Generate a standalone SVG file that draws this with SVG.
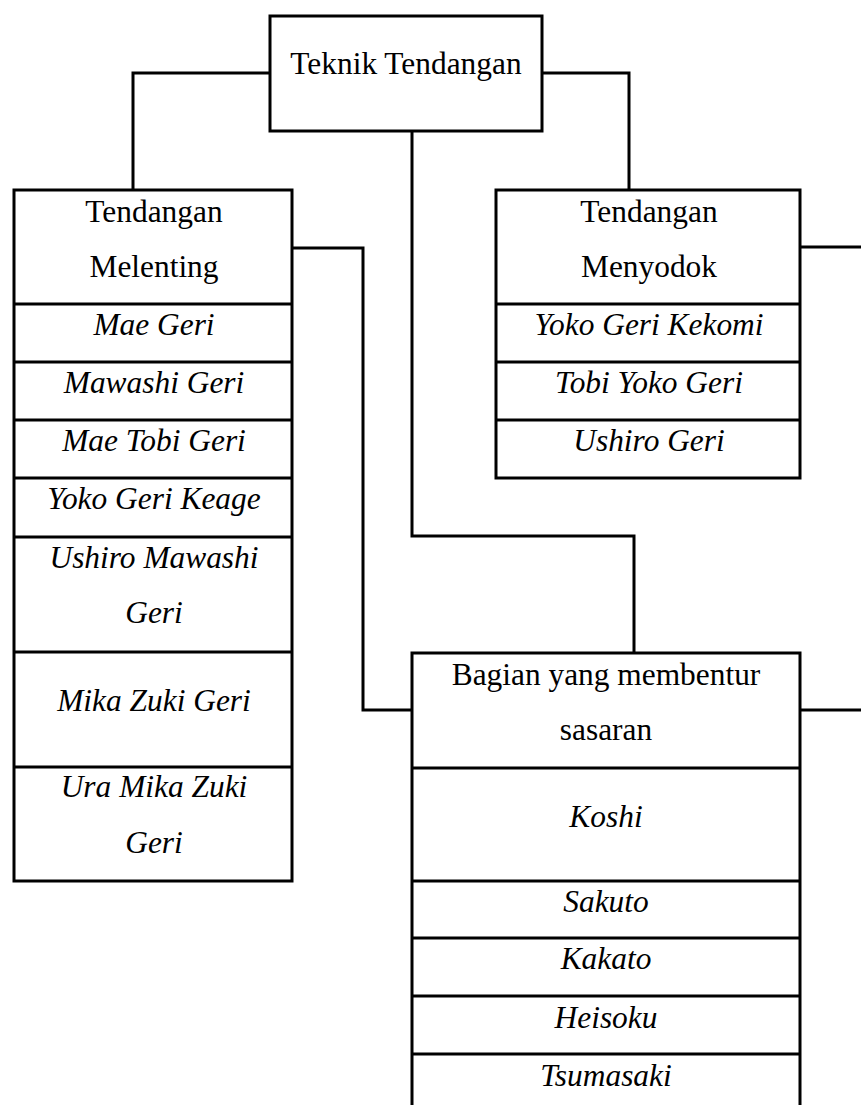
<svg xmlns="http://www.w3.org/2000/svg" width="861" height="1105" viewBox="0 0 861 1105">
<style>
.b{fill:#fff;stroke:#000;stroke-width:3}
.d{stroke:#000;stroke-width:3;fill:none}
.c{fill:none;stroke:#000;stroke-width:3}
text{font-family:"Liberation Serif","Times New Roman",serif;font-size:31.4px;fill:#000;text-anchor:middle}
.i{font-style:italic}
</style>
<rect width="861" height="1105" fill="#fff"/>
<g id="connectors">
<path class="c" d="M271 73 H133 V190"/>
<path class="c" d="M542 73 H629 V190"/>
<path class="c" d="M412 131 V536 H634 V653"/>
<path class="c" d="M292 248 H363 V710 H412"/>
<path class="c" d="M800 247 H861"/>
<path class="c" d="M800 710 H861"/>
</g>
<g id="root">
<rect class="b" x="270" y="16" width="272" height="115"/>
<text x="406" y="74">Teknik Tendangan</text>
</g>
<g id="melenting">
<rect class="b" x="14" y="190" width="278" height="691"/>
<path class="d" d="M14 304H292M14 362H292M14 420H292M14 478H292M14 537H292M14 652H292M14 767H292"/>
<text x="154" y="222">Tendangan</text>
<text x="154" y="277">Melenting</text>
<text class="i" x="154" y="335">Mae Geri</text>
<text class="i" x="154" y="393">Mawashi Geri</text>
<text class="i" x="154" y="451">Mae Tobi Geri</text>
<text class="i" x="154" y="509">Yoko Geri Keage</text>
<text class="i" x="154" y="568">Ushiro Mawashi</text>
<text class="i" x="154" y="623">Geri</text>
<text class="i" x="154" y="711">Mika Zuki Geri</text>
<text class="i" x="154" y="797">Ura Mika Zuki</text>
<text class="i" x="154" y="853">Geri</text>
</g>
<g id="menyodok">
<rect class="b" x="496" y="190" width="304" height="288"/>
<path class="d" d="M496 304H800M496 362H800M496 420H800"/>
<text x="649" y="222">Tendangan</text>
<text x="649" y="277">Menyodok</text>
<text class="i" x="649" y="335">Yoko Geri Kekomi</text>
<text class="i" x="649" y="393">Tobi Yoko Geri</text>
<text class="i" x="649" y="451">Ushiro Geri</text>
</g>
<g id="bagian">
<path class="b" d="M412 1106 V653 H800 V1106"/>
<path class="d" d="M412 768H800M412 881H800M412 938H800M412 996H800M412 1054H800"/>
<text x="606" y="685">Bagian yang membentur</text>
<text x="606" y="740">sasaran</text>
<text class="i" x="606" y="827">Koshi</text>
<text class="i" x="606" y="912">Sakuto</text>
<text class="i" x="606" y="969">Kakato</text>
<text class="i" x="606" y="1028">Heisoku</text>
<text class="i" x="606" y="1086">Tsumasaki</text>
</g>
</svg>
